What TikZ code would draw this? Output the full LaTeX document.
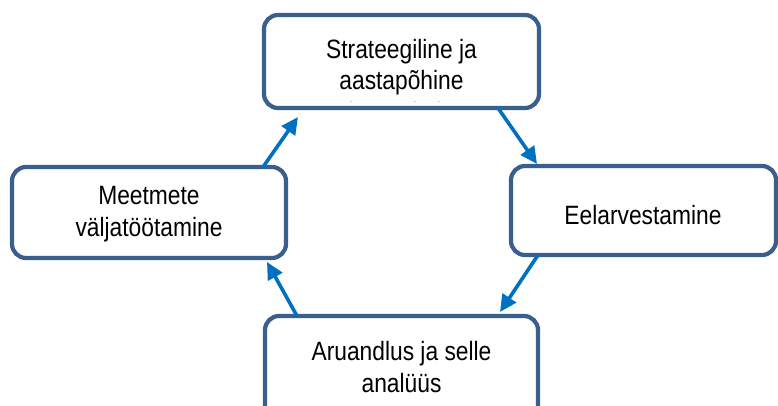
\documentclass[tikz,border=0pt]{standalone}
\usepackage{fontspec}
\setmainfont[FakeStretch=0.86]{Liberation Sans}
\usetikzlibrary{calc,arrows.meta}
\definecolor{boxline}{RGB}{58,95,140}
\definecolor{flow}{RGB}{0,112,192}
\tikzset{
  stage/.style={draw=boxline, line width=4.2pt, rounded corners=14pt, fill=white,
    inner sep=0pt, outer sep=0pt},
  label/.style={align=center, inner sep=0pt, font=\fontsize{26.5}{31.5}\selectfont},
  flowarrow/.style={draw=flow, line width=3.6pt,
    -{Triangle[length=17pt,width=16pt]}}
}
\begin{document}
\begin{tikzpicture}[x=1pt,y=-1pt]
\useasboundingbox (0,0) rectangle (778,406);

% the four stages of the cycle
\node[stage, minimum width=275pt, minimum height=93pt] (top) at (401.5,61.5) {};
\node[stage, minimum width=274pt, minimum height=91pt] (left) at (149,212.5) {};
\node[stage, minimum width=265pt, minimum height=89pt] (right) at (643.5,210.5) {};
\node[stage, minimum width=273pt, minimum height=104pt] (bottom) at (401.5,368) {};

% labels; the top one runs past its box and is cut at the border
\begin{scope}
  \clip ($(top.north west)$) rectangle ($(top.south east)+(0,-6)$);
  \node[label] (toptext) at (401.5,83) {Strateegiline ja\\aastapõhine\\planeerimine};
\end{scope}
\node[label] (lefttext) at (149,214) {Meetmete\\väljatöötamine};
\node[label] (righttext) at (643,215) {Eelarvestamine};
\node[label] (bottomtext) at (401.5,367) {Aruandlus ja selle\\analüüs};

% arrows running clockwise
\draw[flowarrow] ($(top.south east)+(-41,0)$) -- ($(right.north west)+(26,-2)$);
\draw[flowarrow] ($(right.south west)+(27,0)$) -- ($(bottom.north east)+(-38,-4)$);
\draw[flowarrow] ($(bottom.north west)+(32,0)$) -- ($(left.south east)+(-19,4)$);
\draw[flowarrow] ($(left.north east)+(-23,0)$) -- ($(top.south west)+(34,9)$);
\end{tikzpicture}
\end{document}
